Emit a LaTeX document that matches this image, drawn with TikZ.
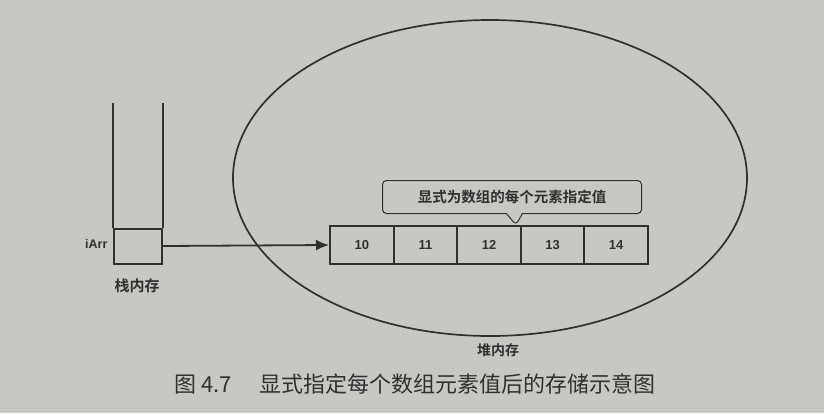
\documentclass[tikz,border=0pt]{standalone}
\usepackage{fontspec}
\setmainfont{Liberation Sans}
\newfontfamily\cjk{Noto Sans CJK SC}[BoldFont={Noto Sans CJK SC Bold}]
\usetikzlibrary{arrows.meta,shapes.geometric,shapes.callouts}
\definecolor{paper}{RGB}{201,199,194}
\definecolor{ink}{RGB}{48,48,48}
\begin{document}
\begin{tikzpicture}[x=1pt,y=-1pt,
		cellbox/.style={draw=ink, line width=2pt, minimum width=63.6pt, minimum height=38pt, inner sep=0pt, font=\bfseries\fontsize{13}{13}\selectfont, text=ink},
		lbl/.style={text=ink, inner sep=0pt, font=\cjk\bfseries\fontsize{#1}{#1}\selectfont}]
	\fill[paper] (0,0) rectangle (824,413);
	\useasboundingbox (0,0) rectangle (824,413);

	% stack
	\node[draw=ink, line width=2pt, minimum width=48pt, minimum height=35pt] (iarr) at (138,246) {};
	\draw[ink, line width=2pt] (iarr.north west) -- ++(0,-125);
	\draw[ink, line width=2pt] (iarr.north east) -- ++(0,-125);
	\node[text=ink, font=\bfseries\fontsize{12.5}{12.5}\selectfont, anchor=east] (name) at (111,244) {iArr};
	\node[lbl=15] (stack) at (137,286) {栈内存};

	% heap
	\node[ellipse, draw=ink, line width=1.7pt, minimum width=514pt, minimum height=316pt] (heap) at (490,178) {};
	\node[lbl=14] (heaplbl) at (498,350) {堆内存};
	\foreach \v [count=\i from 0] in {10,11,12,13,14}
		\node[cellbox] (c\i) at (330+63.6*\i+31.8,245) {\v};
	\draw[ink, line width=1.8pt, -{Latex[length=13pt,width=11pt]}] (iarr.east) -- (c0.west);

	\node[rectangle callout, draw=ink, line width=1pt, rounded corners=4pt, minimum width=259pt, minimum height=33pt,
		callout absolute pointer={(516,225)}, callout pointer width=16pt, lbl=14.5] (note) at (512,197) {显式为数组的每个元素指定值};

	% caption
	\node[text=ink, font=\cjk\fontsize{22}{22}\selectfont, anchor=west, inner sep=0pt] (cap) at (174,384) {图 4.7\hspace{28pt}显式指定每个数组元素值后的存储示意图};
\end{tikzpicture}
\end{document}
